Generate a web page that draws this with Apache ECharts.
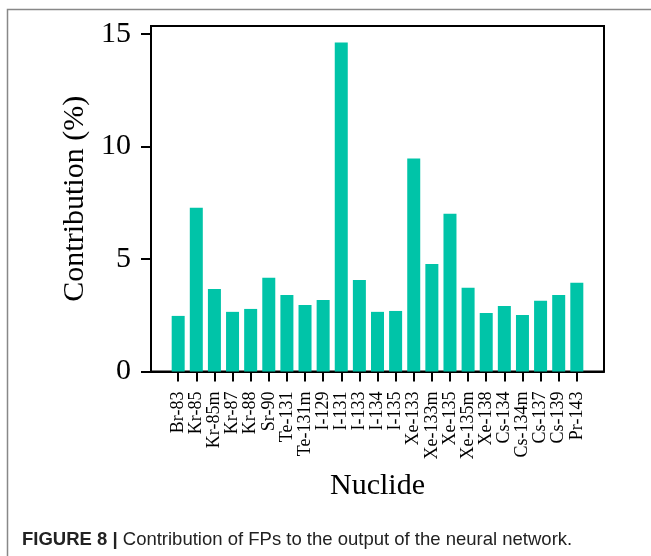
<!DOCTYPE html>
<html>
<head>
<meta charset="utf-8">
<script src="https://cdn.jsdelivr.net/npm/echarts@6/dist/echarts.min.js"></script>
<style>html,body{margin:0;padding:0;background:#fff}#c{width:651px;height:556px}</style>
</head>
<body>
<div id="c"></div>
<script>
const categories = ['Br-83','Kr-85','Kr-85m','Kr-87','Kr-88','Sr-90','Te-131','Te-131m','I-129','I-131','I-133','I-134','I-135','Xe-133','Xe-133m','Xe-135','Xe-135m','Xe-138','Cs-134','Cs-134m','Cs-137','Cs-139','Pr-143'];
const contribution = [2.47, 7.28, 3.67, 2.65, 2.78, 4.16, 3.40, 2.96, 3.18, 14.62, 4.07, 2.65, 2.69, 9.46, 4.78, 7.01, 3.72, 2.60, 2.91, 2.51, 3.14, 3.40, 3.94];
const yTicks = [0, 5, 10, 15];

const xPositions = categories.map((_, i) => i);
const barData = contribution.map((v, i) => [i, v]);
const serif = '"Liberation Serif", "DejaVu Serif", serif';
const sans = '"Liberation Sans", Arial, sans-serif';

const chart = echarts.init(document.getElementById('c'), null, {renderer: 'canvas'});
chart.setOption({
  animation: false,
  backgroundColor: '#fff',
  grid: {
    left: 151, top: 26, width: 453, height: 345.5,
    show: true, borderColor: '#000', borderWidth: 2, backgroundColor: 'transparent'
  },
  xAxis: {
    type: 'value',
    min: -1.5, max: 23.5,
    name: 'Nuclide',
    nameLocation: 'middle',
    nameGap: 100,
    nameTextStyle: {fontFamily: serif, fontSize: 30, color: '#000'},
    axisLine: {show: true, onZero: false, lineStyle: {color: '#000', width: 2}},
    axisTick: {show: true, length: 10, lineStyle: {color: '#000', width: 2}, customValues: xPositions},
    axisLabel: {
      customValues: xPositions,
      rotate: 90,
      margin: 20,
      fontFamily: serif, fontSize: 18, color: '#000',
      formatter: v => categories[Math.round(v)] || ''
    },
    splitLine: {show: false}
  },
  yAxis: {
    type: 'value',
    min: 0, max: 15.35,
    name: 'Contribution (%)',
    nameLocation: 'middle',
    nameGap: 60,
    nameTextStyle: {fontFamily: serif, fontSize: 30, color: '#000'},
    axisLine: {show: true, onZero: false, lineStyle: {color: '#000', width: 2}},
    axisTick: {show: true, length: 10, lineStyle: {color: '#000', width: 2}, customValues: yTicks},
    axisLabel: {customValues: yTicks, margin: 20, fontFamily: serif, fontSize: 30, color: '#000'},
    splitLine: {show: false}
  },
  series: [{
    type: 'bar',
    data: barData,
    barWidth: 13,
    itemStyle: {color: '#00c4a8'}
  }],
  graphic: [
    {
      type: 'rect',
      shape: {x: 7.5, y: 9.5, width: 700, height: 600},
      style: {fill: 'none', stroke: '#888', lineWidth: 1.5},
      silent: true
    },
    {
      type: 'text',
      left: 22, top: 530,
      style: {
        text: '{b|FIGURE 8 |} Contribution of FPs to the output of the neural network.',
        fontFamily: sans,
        fontSize: 18.5,
        fill: '#222',
        rich: {b: {fontWeight: 'bold', fontFamily: sans, fontSize: 18.5, fill: '#222'}}
      }
    }
  ]
});
</script>
</body>
</html>
